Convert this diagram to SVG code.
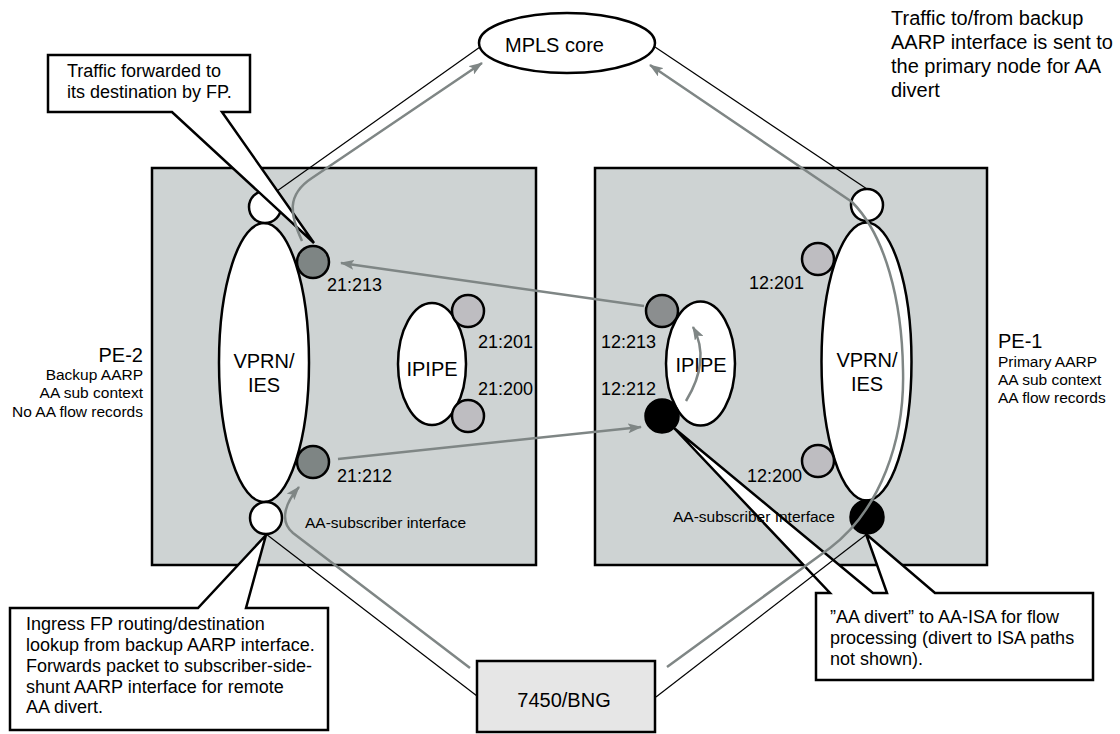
<svg xmlns="http://www.w3.org/2000/svg" width="1120" height="734" viewBox="0 0 1120 734">
<defs>
<style>
text{font-family:"Liberation Sans",Arial,sans-serif;fill:#000}
.box{fill:#ced3d3;stroke:#000;stroke-width:2.5}
.bng{fill:#e6e6e6;stroke:#000;stroke-width:2.5}
.wn{fill:#fff;stroke:#000;stroke-width:2.5}
.pd{fill:#7e8584;stroke:#000;stroke-width:2.5}
.pm{fill:#8b8e8f;stroke:#000;stroke-width:2.5}
.pl{fill:#bebdc1;stroke:#000;stroke-width:2.5}
.pb{fill:#000;stroke:#000;stroke-width:2.5}
.co{fill:#fff;stroke:#000;stroke-width:2.5;stroke-linejoin:miter}
.ln{fill:none;stroke:#000;stroke-width:1.2}
.fl{fill:none;stroke:#7f8685;stroke-width:2.5}
.fa{marker-end:url(#ah)}
.big{font-size:20px}
.lbl{font-size:18px}
.sm{font-size:15.5px}
.ct{font-size:18px}
</style>
<marker id="ah" viewBox="0 0 14 10" refX="13" refY="5" markerWidth="14" markerHeight="10" markerUnits="userSpaceOnUse" orient="auto"><path d="M0,0 L14,5 L0,10 L3,5 Z" fill="#7f8685"/></marker>
</defs>

<g id="note-top-right" class="big">
<text x="891" y="25">Traffic to/from backup</text>
<text x="891" y="49">AARP interface is sent to</text>
<text x="891" y="73">the primary node for AA</text>
<text x="891" y="97">divert</text>
</g>

<g id="pe2">
<rect class="box" x="152" y="168" width="384" height="397"/>
<text class="big" x="143" y="362" text-anchor="end">PE-2</text>
<text class="sm" x="143" y="380" text-anchor="end">Backup AARP</text>
<text class="sm" x="143" y="398" text-anchor="end">AA sub context</text>
<text class="sm" x="143" y="417" text-anchor="end">No AA flow records</text>
</g>
<g id="pe1">
<rect class="box" x="595" y="168" width="392" height="397"/>
<text class="big" x="998" y="348">PE-1</text>
<text class="sm" x="998" y="367">Primary AARP</text>
<text class="sm" x="998" y="385">AA sub context</text>
<text class="sm" x="998" y="403">AA flow records</text>
</g>

<g id="mpls-core">
<ellipse class="wn" cx="567" cy="43" rx="88" ry="30"/>
<text class="big" x="505" y="52">MPLS core</text>
</g>
<g id="bng">
<rect class="bng" x="477" y="661" width="178" height="71"/>
<text class="big" x="564" y="707" text-anchor="middle">7450/BNG</text>
</g>

<g id="pe2-vprn">
<ellipse class="wn" cx="264" cy="362.5" rx="45" ry="139.5"/>
<text class="big" x="264" y="368" text-anchor="middle">VPRN/</text>
<text class="big" x="264" y="392" text-anchor="middle">IES</text>
</g>
<g id="pe2-net-if"><circle class="wn" cx="265" cy="207" r="16"/></g>
<g id="pe2-sub-if"><circle class="wn" cx="266" cy="518" r="16"/></g>
<g id="p21-213"><circle class="pd" cx="313" cy="262" r="16"/><text class="lbl" x="327" y="291">21:213</text></g>
<g id="p21-212"><circle class="pd" cx="313" cy="462" r="16"/><text class="lbl" x="337" y="482">21:212</text></g>
<g id="pe2-ipipe">
<ellipse class="wn" cx="432" cy="364" rx="34" ry="61"/>
<text class="big" x="432" y="376" text-anchor="middle">IPIPE</text>
</g>
<g id="p21-201"><circle class="pl" cx="468" cy="311" r="16"/><text class="lbl" x="478" y="348">21:201</text></g>
<g id="p21-200"><circle class="pl" cx="468" cy="416" r="16"/><text class="lbl" x="478" y="395">21:200</text></g>

<g id="pe1-vprn">
<ellipse class="wn" cx="866.5" cy="361.5" rx="45" ry="139"/>
<text class="big" x="867" y="367" text-anchor="middle">VPRN/</text>
<text class="big" x="867" y="391" text-anchor="middle">IES</text>
</g>
<g id="pe1-net-if"><circle class="wn" cx="867" cy="205" r="16"/></g>
<g id="pe1-sub-if"><circle class="pb" cx="867" cy="517" r="16.5"/></g>
<g id="p12-201"><circle class="pl" cx="818" cy="259" r="16"/><text class="lbl" x="804" y="289" text-anchor="end">12:201</text></g>
<g id="p12-200"><circle class="pl" cx="818" cy="461" r="16"/><text class="lbl" x="802" y="482" text-anchor="end">12:200</text></g>
<g id="pe1-ipipe">
<ellipse class="wn" cx="700.5" cy="363.5" rx="34.5" ry="62"/>
<text class="big" x="701" y="372" text-anchor="middle">IPIPE</text>
</g>
<g id="p12-213"><circle class="pm" cx="662" cy="311" r="16"/><text class="lbl" x="601" y="348">12:213</text></g>
<g id="p12-212"><circle class="pb" cx="662" cy="416" r="16.5"/><text class="lbl" x="601" y="395">12:212</text></g>

<g id="callout-fp">
<path class="co" d="M48,55 H250 V112 H222 L314,243 L172,112 H48 Z"/>
<text class="ct" x="67" y="77">Traffic forwarded to</text>
<text class="ct" x="67" y="98">its destination by FP.</text>
</g>
<g id="callout-ingress">
<path class="co" d="M10,608 H198 L266,535 L246,608 H328 V730 H10 Z"/>
<text class="ct" x="26" y="630">Ingress FP routing/destination</text>
<text class="ct" x="26" y="651">lookup from backup AARP interface.</text>
<text class="ct" x="26" y="672">Forwards packet to subscriber-side-</text>
<text class="ct" x="26" y="693">shunt AARP interface for remote</text>
<text class="ct" x="26" y="713">AA divert.</text>
</g>
<g id="callout-divert">
<path class="co" d="M816,593 H830 L674,428 L873,593 H887 L866,534 L935,593 H1093 V680 H816 Z"/>
<text class="ct" x="830" y="623">”AA divert” to AA-ISA for flow</text>
<text class="ct" x="830" y="644">processing (divert to ISA paths</text>
<text class="ct" x="830" y="665">not shown).</text>
</g>

<g id="connectors">
<path class="ln" d="M480,47 L277,191"/>
<path class="ln" d="M655,47 L867,189"/>
<path class="ln" d="M266,534 L477,696"/>
<path class="ln" d="M867,534 L656,697"/>
<path class="fl fa" d="M302,241 C290,215 286,195 312,178 L482,63"/>
<path class="fl fa" d="M667,667 L830,548 C880,510 905,440 903,370 C902,300 885,235 852,202 L650,65"/>
<path class="fl fa" d="M470,668 L293,533 C282,524 281,508 299,487"/>
<path class="fl fa" d="M644,306 L341,263"/>
<path class="fl fa" d="M338,459 L641,427"/>
<path class="fl fa" d="M686,401 Q711,360 693,327"/>
</g>

<g id="sub-if-labels" class="sm">
<text x="305" y="528">AA-subscriber interface</text>
<text x="673" y="522">AA-subscriber Interface</text>
</g>
</svg>
